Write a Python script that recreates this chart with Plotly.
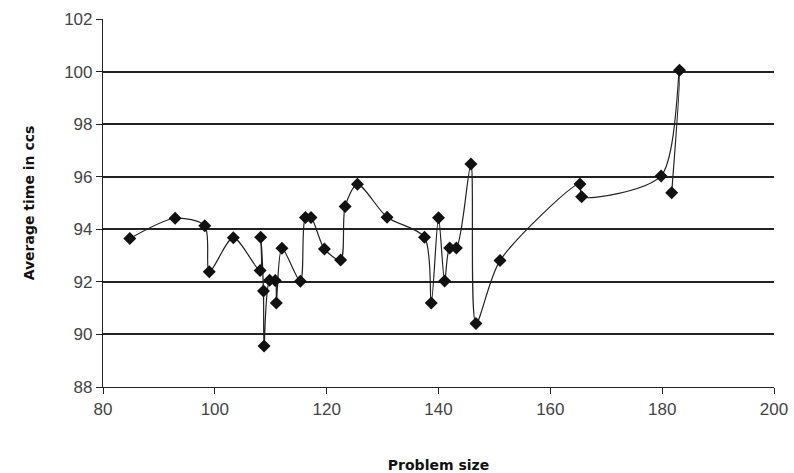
import plotly.graph_objects as go

# Data (in plotted order)
problem_size = [84.8, 92.9, 98.2, 99.0, 103.3, 108.1, 108.2, 108.7, 108.8, 109.8,
                110.8, 111.0, 112.0, 115.3, 116.2, 117.2, 119.6, 122.5, 123.3, 125.5,
                130.8, 137.5, 138.7, 140.0, 141.1, 142.0, 143.2, 145.8, 146.7, 151.0,
                165.3, 165.6, 179.8, 183.1, 181.7]
avg_time = [93.65, 94.42, 94.13, 92.38, 93.68, 92.43, 93.70, 91.65, 89.56, 92.06,
            92.05, 91.20, 93.28, 92.02, 94.45, 94.45, 93.25, 92.83, 94.87, 95.71,
            94.46, 93.70, 91.20, 94.44, 92.03, 93.29, 93.29, 96.48, 90.42, 92.81,
            95.72, 95.24, 96.03, 100.05, 95.39]

x_ticks = [80, 100, 120, 140, 160, 180, 200]
y_ticks = [88, 90, 92, 94, 96, 98, 100, 102]

fig = go.Figure()
fig.add_trace(go.Scatter(
    x=problem_size, y=avg_time,
    mode="lines+markers",
    line=dict(color="#222222", width=1.2, shape="spline", smoothing=0.8),
    marker=dict(symbol="diamond", size=10, color="#111111"),
    showlegend=False,
))

tick_font = dict(family="Liberation Sans Narrow, Arial Narrow, Liberation Sans, Arial", size=17, color="#444444")
title_font = dict(family="DejaVu Sans, Verdana", size=14, color="#111111", weight="bold")

fig.update_layout(
    width=794, height=473,
    margin=dict(l=103, r=20, t=19, b=86),
    paper_bgcolor="white", plot_bgcolor="white",
    xaxis=dict(
        range=[80, 200], tickmode="array", tickvals=x_ticks,
        ticktext=[str(v) for v in x_ticks],
        showgrid=False, zeroline=False, automargin=False,
        showline=True, linecolor="#222222", linewidth=1.2,
        ticks="outside", ticklen=6, tickcolor="#222222",
        tickfont=tick_font,
        title=dict(text="Problem size", font=title_font, standoff=45),
    ),
    yaxis=dict(
        range=[88, 102], tickmode="array", tickvals=y_ticks,
        ticktext=[str(v) for v in y_ticks],
        showgrid=True, gridcolor="#222222", gridwidth=1.5,
        zeroline=False, automargin=False,
        showline=True, linecolor="#222222", linewidth=1.2,
        ticks="outside", ticklen=6, tickcolor="#222222",
        tickfont=tick_font,
        title=dict(text="Average time in ccs", font=title_font, standoff=26),
    ),
)

# Remove the default page margin so the figure fills the 794x473 window exactly.
fig.write_html(
    "out.html",
    config={"displayModeBar": False},
    post_script="document.body.style.margin='0px';document.body.style.overflow='hidden';",
)
